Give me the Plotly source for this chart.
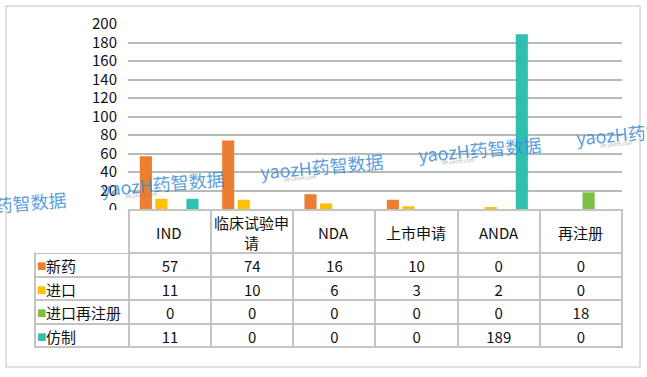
import plotly.graph_objects as go

categories = ["IND", "临床试验申请", "NDA", "上市申请", "ANDA", "再注册"]
header_labels = ["IND", "临床试验申<br>请", "NDA", "上市申请", "ANDA", "再注册"]
series_names = ["新药", "进口", "进口再注册", "仿制"]
xinyao = [57, 74, 16, 10, 0, 0]
jinkou = [11, 10, 6, 3, 2, 0]
jinkou_zaizhuce = [0, 0, 0, 0, 0, 18]
fangzhi = [11, 0, 0, 0, 189, 0]
series_values = [xinyao, jinkou, jinkou_zaizhuce, fangzhi]
colors = ["#ED7D31", "#FFC000", "#7AC143", "#2EC1B2"]
y_ticks = list(range(0, 201, 20))

W, H = 647, 377
FONT = "Noto Sans CJK SC, Noto Sans, sans-serif"

def px(x):
    return x / W

def py(y):
    return 1 - y / H

fig = go.Figure()
for name, vals, col in zip(series_names, series_values, colors):
    fig.add_trace(go.Bar(x=categories, y=vals, name=name, marker=dict(color=col, line=dict(width=0)),
                         xaxis="x", yaxis="y", showlegend=False))

# data table
TAB_TOP, HEAD_H, ROW_H = 210, 43, 23.5
row_labels = ["\u2009" + n for n in series_names]
cols = [row_labels]
for i in range(len(categories)):
    cols.append([str(v[i]) for v in series_values])

grid = "#c4c4c4"
fig.add_trace(go.Table(
    domain=dict(x=[px(35), px(622)], y=[py(352), py(TAB_TOP)]),
    columnwidth=[94] + [82.2] * 6,
    header=dict(values=[""] * 7,
                fill_color="white",
                line=dict(color=["rgba(0,0,0,0)"] + [grid] * 6, width=2),
                align="center",
                font=dict(family=FONT, size=15, color="#111"),
                height=HEAD_H),
    cells=dict(values=cols,
               fill_color="white",
               line=dict(color=grid, width=2),
               align=["left"] + ["center"] * 6,
               font=dict(family=FONT, size=15, color="#111"),
               height=ROW_H),
))

layout_ann = []
# column headers placed on the category axis
for cat, lab in zip(categories, header_labels):
    layout_ann.append(dict(x=cat, xref="x", y=py(TAB_TOP + HEAD_H / 2 + 1), yref="paper", text=lab,
                           showarrow=False, align="center", xanchor="center", yanchor="middle",
                           font=dict(family=FONT, size=15, color="#111")))
# legend keys in the table
for k, col in enumerate(colors):
    cy = TAB_TOP + HEAD_H + ROW_H * (k + 0.5)
    layout_ann.append(dict(x=px(41.5), y=py(cy + 1), xref="paper", yref="paper", text="■",
                           showarrow=False, xanchor="center", yanchor="middle",
                           font=dict(family="DejaVu Sans", size=10, color=col)))

wm = [(5, 204), (163, 183), (322, 166), (480, 149), (638, 132)]
for (cx, cy) in wm:
    layout_ann.append(dict(x=px(cx), y=py(cy), xref="paper", yref="paper", text="yaozH药智数据",
                           showarrow=False, textangle=-5, xanchor="center", yanchor="middle",
                           font=dict(family=FONT, size=18, color="rgba(60,140,215,0.85)")))
    layout_ann.append(dict(x=px(cx - 22), y=py(cy + 12), xref="paper", yref="paper", text="db.yaozh.com",
                           showarrow=False, textangle=-5, xanchor="center", yanchor="middle",
                           font=dict(family=FONT, size=5, color="rgba(120,120,120,0.6)")))

fig.update_layout(
    width=W, height=H,
    margin=dict(l=0, r=0, t=0, b=0, autoexpand=False),
    paper_bgcolor="white", plot_bgcolor="white",
    showlegend=False,
    barmode="group", bargap=0.245, bargroupgap=0.22,
    xaxis=dict(domain=[px(128), px(622)], showticklabels=False, showgrid=False,
               zeroline=False, showline=False, ticks=""),
    yaxis=dict(domain=[py(209), py(24)], range=[0, 200], tickvals=y_ticks,
               showgrid=True, gridcolor="#b5bcb5", gridwidth=1.6, zeroline=False,
               showline=False, ticks="", ticklabelstandoff=10,
               tickfont=dict(family=FONT, size=15, color="#111")),
    annotations=layout_ann,
    shapes=[dict(type="rect", xref="paper", yref="paper", x0=px(6), x1=px(640), y0=py(367), y1=py(6),
                 line=dict(color="#d6d6d6", width=1.5), fillcolor="rgba(0,0,0,0)", layer="below")],
)

fig.write_html("out.html")
